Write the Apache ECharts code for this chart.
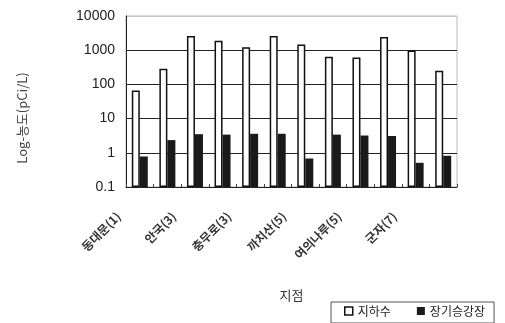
<!DOCTYPE html>
<html>
<head>
<meta charset="utf-8">
<script src="https://cdn.jsdelivr.net/npm/echarts@6/dist/echarts.min.js"></script>
<style>
  html, body { margin: 0; padding: 0; background: #fff; }
  #chart { width: 505px; height: 323px; }
</style>
</head>
<body>
<div id="chart"></div>
<script>
// Sampling sites (only every other site is labelled on the axis)
const categories = ['동대문(1)', '', '안국(3)', '', '충무로(3)', '', '까치산(5)', '', '여의나루(5)', '', '군자(7)', ''];
// Radon concentration, pCi/L
const groundwater = [66, 285, 2600, 1900, 1230, 2600, 1470, 640, 610, 2450, 980, 250];
const platform = [0.78, 2.35, 3.5, 3.4, 3.6, 3.6, 0.68, 3.4, 3.2, 3.1, 0.51, 0.82];
const yTicks = [0.1, 1, 10, 100, 1000, 10000];

const chart = echarts.init(document.getElementById('chart'));
chart.setOption({
  animation: false,
  backgroundColor: '#fff',
  grid: {
    left: 126, right: 48, top: 16, bottom: 136,
    show: true, borderColor: '#b8b8b8', borderWidth: 1, backgroundColor: 'transparent'
  },
  legend: {
    left: 331, top: 302,
    padding: [3, 9, 6, 13],
    borderColor: '#555', borderWidth: 1,
    backgroundColor: '#fff',
    itemWidth: 8, itemHeight: 8, itemGap: 26,
    textStyle: { fontSize: 12, color: '#222', fontFamily: 'Noto Sans CJK KR' },
    data: [
      { name: '지하수', icon: 'rect', itemStyle: { color: '#fff', borderColor: '#111', borderWidth: 1.5 } },
      { name: '장기승강장', icon: 'rect', itemStyle: { color: '#1a1a1a' } }
    ]
  },
  xAxis: {
    type: 'category',
    data: categories,
    name: '지점',
    nameLocation: 'middle',
    nameGap: 102,
    nameTextStyle: { fontSize: 13, color: '#333', fontFamily: 'Noto Sans CJK KR' },
    axisLine: { lineStyle: { color: '#222', width: 1 } },
    axisTick: { show: true, inside: true, length: 3, interval: 0, lineStyle: { color: '#444' } },
    axisLabel: {
      interval: 0, rotate: 45, margin: 6,
      padding: [0, 30, 0, 0],
      fontSize: 12, fontWeight: 'bold', color: '#333',
      fontFamily: 'Noto Sans CJK KR'
    },
    splitLine: { show: false }
  },
  yAxis: {
    type: 'log',
    logBase: 10,
    min: 0.1, max: 10000,
    startValue: 0.1,
    axisLine: { show: true, lineStyle: { color: '#222', width: 1 } },
    axisTick: { show: false },
    axisLabel: {
      fontSize: 14, color: '#222', margin: 11,
      fontFamily: 'Liberation Sans',
      formatter: v => {
        const t = yTicks.find(x => Math.abs(x - v) / x < 1e-6);
        return t === undefined ? '' : String(t);
      }
    },
    splitLine: { show: true, lineStyle: { color: ['#222', '#222', '#222', '#222', '#222', '#c8c8c8'], width: 1 } }
  },
  graphic: [{
    type: 'text',
    x: 22, y: 118,
    rotation: Math.PI / 2,
    style: {
      text: 'Log-농도(pCi/L)',
      fontSize: 13, fill: '#444',
      fontFamily: 'Noto Sans CJK KR',
      align: 'center', verticalAlign: 'middle'
    }
  }],
  series: [
    {
      name: '지하수', type: 'bar', data: groundwater,
      barWidth: 8, barGap: '0%',
      itemStyle: { color: '#fff', borderColor: '#111', borderWidth: 1.5 }
    },
    {
      name: '장기승강장', type: 'bar', data: platform,
      barWidth: 8, barGap: '0%',
      itemStyle: { color: '#1a1a1a' }
    }
  ]
});
</script>
</body>
</html>
